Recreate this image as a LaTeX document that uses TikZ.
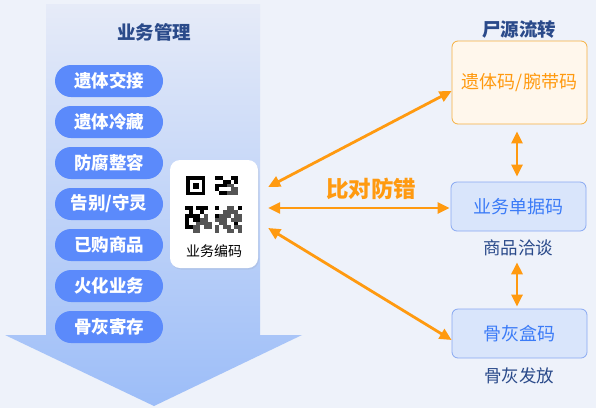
\documentclass[tikz,border=0pt]{standalone}
\usepackage{fontspec}
\setmainfont{Noto Sans CJK SC}
\usetikzlibrary{arrows.meta,shadows}
\definecolor{bgc}{HTML}{EEF2FA}
\definecolor{titlec}{HTML}{2A4A8A}
\definecolor{pillc}{HTML}{5B8AFB}
\definecolor{orc}{HTML}{FF9A10}
\definecolor{orfill}{HTML}{FFF7EC}
\definecolor{orborder}{HTML}{F5B040}
\definecolor{bluefill}{HTML}{D9E5FB}
\definecolor{blueborder}{HTML}{88A8F2}
\definecolor{bluetext}{HTML}{3B7BF7}
\definecolor{arrtop}{HTML}{E6EBF8}
\definecolor{arrbot}{HTML}{9CBDF8}
\definecolor{qrgray}{HTML}{555555}
\tikzset{
  pill/.style={fill=pillc, text=white, font=\fontsize{17.5}{17.5}\selectfont\bfseries,
    minimum width=108pt, minimum height=32pt, rounded corners=16pt, inner sep=0pt},
  titletext/.style={text=titlec, font=\fontsize{18.5}{18.5}\selectfont\bfseries, inner sep=0pt},
  subtext/.style={text=titlec, font=\fontsize{17.5}{17.5}\selectfont, inner sep=0pt},
  orbox/.style={draw=orborder, fill=orfill, line width=0.8pt, rounded corners=6pt,
    minimum width=135pt, minimum height=83pt, text=orc, font=\fontsize{18}{18}\selectfont, inner sep=0pt},
  bluebox/.style={draw=blueborder, fill=bluefill, line width=0.8pt, rounded corners=6pt,
    minimum width=135pt, minimum height=49pt, text=bluetext, font=\fontsize{18}{18}\selectfont, inner sep=0pt},
  card/.style={fill=white, rounded corners=10pt, minimum width=88pt, minimum height=108pt,
    inner sep=0pt, drop shadow={shadow xshift=1pt, shadow yshift=-1.5pt, opacity=0.12}},
  link/.style={draw=orc, line width=2.8pt, {Triangle[length=12pt,width=11pt]}-{Triangle[length=12pt,width=11pt]}},
}
\begin{document}
\begin{tikzpicture}[x=1pt,y=-1pt]
\useasboundingbox (0,0) rectangle (596,408);
\fill[bgc] (0,0) rectangle (596,408);
% big downward arrow
\shade[top color=arrtop, bottom color=arrbot]
  (46,4) -- (260,4) -- (260,335) -- (302,335) -- (154,406) -- (5,335) -- (46,335) -- cycle;
\node[titletext] (title) at (154,32) {业务管理};
% pills
\node[pill] (p1) at (109,81) {遗体交接};
\node[pill] (p2) at (109,122) {遗体冷藏};
\node[pill] (p3) at (109,163) {防腐整容};
\node[pill] (p4) at (109,204) {告别/守灵};
\node[pill] (p5) at (109,245) {已购商品};
\node[pill] (p6) at (109,286) {火化业务};
\node[pill] (p7) at (109,327) {骨灰寄存};
% card
\node[card] (card) at (214,214) {};
\node[text=black, font=\fontsize{14}{14}\selectfont, inner sep=0pt] (cardlabel) at (214,251) {业务编码};
% QR code
\begin{scope}[shift={(185,176)}]
  \fill[black] (1,0) rectangle (20,19);
  \fill[white] (4.5,3.5) rectangle (16.5,15.5);
  \fill[black] (7.5,6.5) rectangle (13.5,12.5);
  \def\m{3.8}
  \foreach \c/\r in {8/0,9/0,12/0,13/0,10/1,11/1,13/1,8/2,9/2,10/2,8/3,9/4,10/4,
     0/8,1/8,3/8,4/8,5/8,1/9,4/9,0/10,1/10,2/10,3/10,0/11,2/11,3/11,0/12,0/13,1/13,
     8/8,14/8,8/10,13/12}
    \fill[black] (\c*\m,\r*\m) rectangle ++(\m+0.05,\m+0.05);
  \foreach \c/\r in {11/2,12/2,12/3,13/3,11/4,12/4,13/4,
     5/10,4/11,5/11,3/12,4/12,5/12,6/12,2/13,3/13,5/13,6/13,2/14,3/14,
     11/8,12/8,10/9,11/9,12/9,13/9,9/10,10/10,11/10,13/10,14/10,8/11,9/11,10/11,12/11,13/11,14/11,
     9/12,10/12,8/13,10/13,11/13,13/13,14/13,8/14,11/14,12/14,14/14}
    \fill[qrgray] (\c*\m,\r*\m) rectangle ++(\m+0.05,\m+0.05);
\end{scope}
% right side
\node[titletext] (t1) at (519,30) {尸源流转};
\node[orbox] (b1) at (519.5,82.5) {遗体码/腕带码};
\node[bluebox] (b2) at (518.5,206.5) {业务单据码};
\node[subtext] (l2) at (518,248) {商品洽谈};
\node[bluebox] (b3) at (519.5,333.5) {骨灰盒码};
\node[subtext] (l3) at (519,376) {骨灰发放};
% links
\draw[link] ([xshift=10pt,yshift=27pt]card.east) -- ([yshift=-8.5pt]b1.west);
\draw[link] ([xshift=10pt,yshift=6pt]card.east) -- ([xshift=-1pt,yshift=-1.5pt]b2.west);
\draw[link] ([xshift=10pt,yshift=-14pt]card.east) -- ([yshift=-6.5pt]b3.west);
\draw[link] ([xshift=-2.5pt,yshift=-7pt]b1.south) -- ([xshift=-1.5pt,yshift=5pt]b2.north);
\draw[link] ([xshift=-1pt,yshift=-6pt]l2.south) -- ([xshift=-2.5pt,yshift=2pt]b3.north);
\node[text=orc, font=\fontsize{22.5}{22.5}\selectfont\bfseries, inner sep=0pt] (cmp) at (371,189) {比对防错};
\end{tikzpicture}
\end{document}
